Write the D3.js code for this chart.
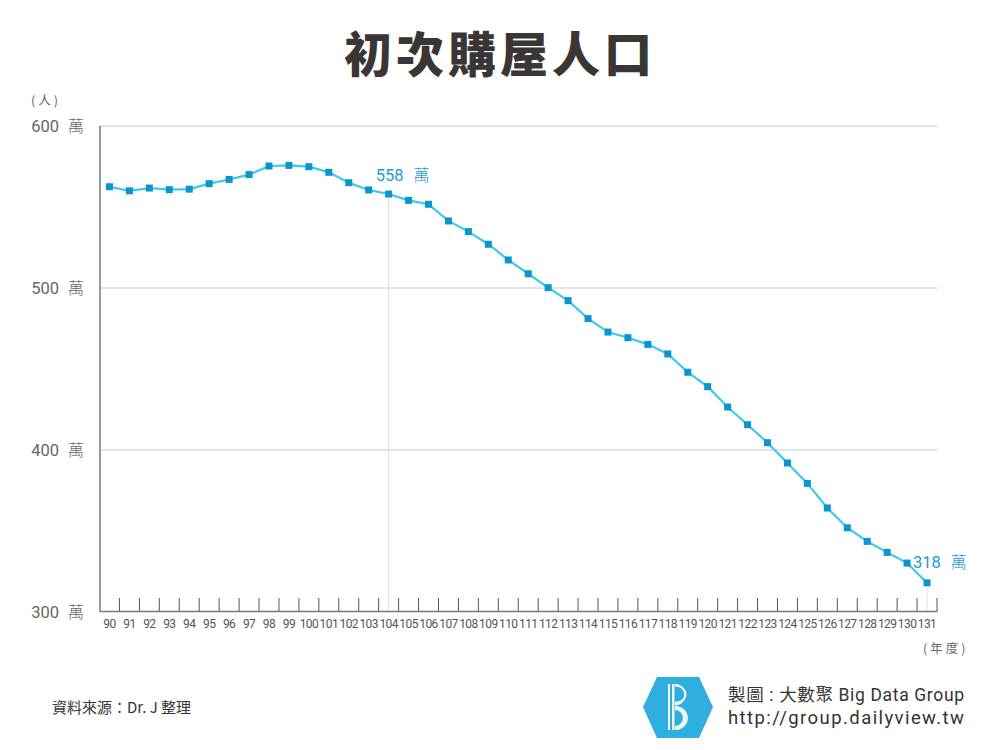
<!DOCTYPE html>
<html><head><meta charset="utf-8">
<script src="https://cdn.jsdelivr.net/npm/d3@7/dist/d3.min.js"></script>
<style>body{margin:0;background:#fff}svg{display:block}</style>
</head><body>
<script>
const years = [90,91,92,93,94,95,96,97,98,99,100,101,102,103,104,105,106,107,108,109,110,111,112,113,114,115,116,117,118,119,120,121,122,123,124,125,126,127,128,129,130,131];
const values = [562.5,560,561.7,560.7,561,564.4,567,570,575.3,575.7,574.9,571.4,565,560.5,558,554.1,551.7,541.4,534.8,527,517.3,508.8,500.2,492.2,481.1,472.8,469.3,465.2,459.3,448,439.1,426.5,415.6,404.5,392,379.4,364.2,352,343.6,336.8,330.2,318];
const yTicks = [300,400,500,600];
const highlights = [104,131];
const title = "初次購屋人口";
const unit = "萬";

const W=1000,H=750;
const svg=d3.select("body").append("svg").attr("width",W).attr("height",H);
const font="Roboto, 'Noto Sans CJK TC', sans-serif";
const cjk="'Noto Sans CJK TC', sans-serif";

const x=d3.scaleBand().domain(years).range([99.5,937]);
const y=d3.scaleLinear().domain([300,600]).range([612,126]);
const cx=d=>x(d)+x.bandwidth()/2;

svg.append("text").attr("x",500).attr("y",72).attr("text-anchor","middle")
  .attr("font-family",cjk).attr("font-weight",900)
  .attr("font-size",48).attr("letter-spacing",4).attr("fill","#3a3636").text(title);

// grid
svg.append("g").selectAll("line").data(yTicks.filter(t=>t>300)).join("line")
  .attr("x1",100).attr("x2",937).attr("y1",d=>y(d)).attr("y2",d=>y(d))
  .attr("stroke","#c8c8c8").attr("stroke-width",1);

// highlight verticals
svg.append("line").attr("x1",cx(104)).attr("x2",cx(104)).attr("y1",y(558)+4).attr("y2",612)
  .attr("stroke","#dcdcdc").attr("stroke-width",1);
svg.append("line").attr("x1",cx(131)).attr("x2",cx(131)).attr("y1",y(318)+4).attr("y2",612)
  .attr("stroke","#e6e6e6").attr("stroke-width",1);

// y axis line
svg.append("line").attr("x1",100).attr("x2",100).attr("y1",126).attr("y2",612).attr("stroke","#777").attr("stroke-width",1.5);

// y labels
const yl=svg.append("g").selectAll("g").data(yTicks).join("g");
yl.append("text").attr("x",59).attr("y",d=>y(d)+6).attr("text-anchor","end")
  .attr("font-family",font).attr("font-size",16.5).attr("fill","#666").text(d=>d);
yl.append("text").attr("x",68).attr("y",d=>y(d)+6)
  .attr("font-family",cjk).attr("font-size",16).attr("font-weight",300).attr("fill","#666").text(unit);
svg.append("text").attr("x",31).attr("y",105).attr("font-family",cjk).attr("font-size",12.5).attr("letter-spacing",3).attr("fill","#666").text("(人)");

// x axis
const xAxis=d3.axisBottom(x).tickSize(0).tickFormat(d=>d);
const gx=svg.append("g").attr("transform","translate(0,611)").call(xAxis);
gx.select(".domain").attr("stroke","#777").attr("stroke-width",1.5);
gx.selectAll("text").attr("font-family",font).attr("font-size",12).attr("fill","#555").attr("dy","1.15em")
  .attr("letter-spacing",-0.6);
// boundary ticks
const bounds=years.map(d=>x(d)).concat([x(years[years.length-1])+x.bandwidth()]);
svg.append("g").selectAll("line").data(bounds.slice(1)).join("line")
  .attr("x1",d=>d).attr("x2",d=>d).attr("y1",598).attr("y2",611)
  .attr("stroke","#555").attr("stroke-width",1);
svg.append("text").attr("x",923).attr("y",653).attr("font-family",cjk).attr("font-size",12.5).attr("letter-spacing",3).attr("fill","#666").text("(年度)");

// line
const line=d3.line().x((d,i)=>cx(years[i])).y(d=>y(d));
svg.append("path").datum(values).attr("d",line).attr("fill","none").attr("stroke","#3cc8f2").attr("stroke-width",2.2);
svg.append("g").selectAll("rect").data(values).join("rect")
  .attr("x",(d,i)=>cx(years[i])-3.5).attr("y",d=>y(d)-3.5).attr("width",7).attr("height",7)
  .attr("fill","#0a96cc");

// annotations
const annPos={104:{dx:-13,dy:-13},131:{dx:-14,dy:-15}};
highlights.forEach(h=>{
  const i=years.indexOf(h);
  const t=svg.append("text").attr("x",cx(h)+annPos[h].dx).attr("y",y(values[i])+annPos[h].dy)
    .attr("font-family",font).attr("font-size",16.5).attr("fill","#1e9ad6");
  t.append("tspan").text(values[i]);
  t.append("tspan").attr("dx",10).attr("font-family",cjk).attr("font-weight",300).attr("font-size",16).text(unit);
});

// footer
svg.append("text").attr("x",52).attr("y",713).attr("font-family",cjk).attr("font-size",15).attr("fill","#333").text("資料來源：Dr. J 整理");

// logo
const lg=svg.append("g");
lg.append("path").attr("d","M643,707 L657,677 L699,677 L713,707 L699,738 L657,738 Z").attr("fill","#2eafe0");
lg.append("rect").attr("x",668).attr("y",684).attr("width",2).attr("height",46).attr("fill","#fff");
lg.append("rect").attr("x",672).attr("y",684).attr("width",2.5).attr("height",46).attr("fill","#e6f6fc");
[3,6,9].forEach(r=>{
  lg.append("path").attr("d",`M675,${684+r*0.2} A${10-r*0.3},${11-r*0.6} 0 0 1 675,${706-r*0.4}`).attr("fill","none").attr("stroke","#fff").attr("stroke-width",1.3);
});
[2,5,8,11].forEach(r=>{
  lg.append("path").attr("d",`M675,${706+r*0.3} A${13-r*0.6},${12-r*0.5} 0 0 1 675,${730-r*0.3}`).attr("fill","none").attr("stroke","#fff").attr("stroke-width",1.3);
});
svg.append("text").attr("x",728).attr("y",701).attr("font-family","Roboto, 'Noto Sans CJK TC', sans-serif").attr("font-size",17.5)
  .attr("textLength",236).attr("lengthAdjust","spacing").attr("fill","#333").text("製圖 : 大數聚 Big Data Group");
svg.append("text").attr("x",728).attr("y",724).attr("font-family","Roboto, sans-serif").attr("font-size",18.5)
  .attr("textLength",236).attr("lengthAdjust","spacing").attr("fill","#333").text("http://group.dailyview.tw");
</script>
</body></html>
